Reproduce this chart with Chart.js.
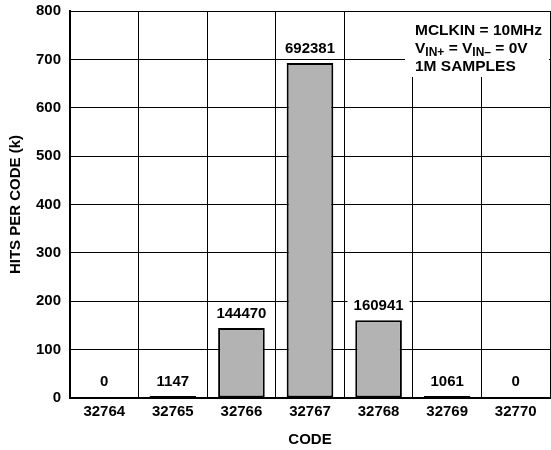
<!DOCTYPE html>
<html>
<head>
<meta charset="utf-8">
<script src="https://cdn.jsdelivr.net/npm/chart.js@4"></script>
<style>
  html, body { margin: 0; padding: 0; background: #fff; }
  #wrap { width: 551px; height: 450px; }
</style>
</head>
<body>
<div id="wrap"><canvas id="histChart"></canvas></div>
<script>
// Histogram of output codes
var codes = ['32764', '32765', '32766', '32767', '32768', '32769', '32770'];
var hits = [0, 1147, 144470, 692381, 160941, 1061, 0];
var hitsK = hits.map(function (h) { return h / 1000; });
var yTicks = [0, 100, 200, 300, 400, 500, 600, 700, 800];
var noteLines = [
    [['MCLKIN = 10MHz', false]],
    [['V', false], ['IN+', true], [' = V', false], ['IN\u2013', true], [' = 0V', false]],
    [['1M SAMPLES', false]]
];

var FONT = '"Liberation Sans", Arial, sans-serif';
Chart.defaults.font.family = FONT;
Chart.defaults.font.weight = 'bold';
Chart.defaults.font.size = 15;
Chart.defaults.color = '#000';

// boxed note in the top right corner
var notePlugin = {
    id: 'note',
    beforeDatasetsDraw: function (chart) {
        var ctx = chart.ctx;
        var area = chart.chartArea;
        ctx.save();
        ctx.fillStyle = '#fff';
        ctx.fillRect(405, area.top + 1, area.right - 405 - 1, 65);
        ctx.fillStyle = '#000';
        ctx.textBaseline = 'middle';
        var lineY = [31, 49, 67];
        noteLines.forEach(function (segs, li) {
            var x = 415;
            segs.forEach(function (s) {
                ctx.font = 'bold ' + (s[1] ? 12 : 15.5) + 'px ' + FONT;
                ctx.fillText(s[0], x, lineY[li] + (s[1] ? 4 : 0));
                x += ctx.measureText(s[0]).width;
            });
        });
        ctx.restore();
    }
};

// value labels above each bar, on a white patch
var barLabels = {
    id: 'barLabels',
    afterDatasetsDraw: function (chart) {
        var ctx = chart.ctx;
        var meta = chart.getDatasetMeta(0);
        ctx.save();
        ctx.font = 'bold 15px ' + FONT;
        ctx.textAlign = 'center';
        ctx.textBaseline = 'middle';
        meta.data.forEach(function (bar, i) {
            var txt = String(hits[i]);
            var w = ctx.measureText(txt).width + 12;
            var y = Math.min(bar.y, chart.chartArea.bottom) - 15;
            ctx.fillStyle = '#fff';
            ctx.fillRect(bar.x - w / 2, y - 9, w, 18);
            ctx.fillStyle = '#000';
            ctx.fillText(txt, bar.x, y + 1);
        });
        ctx.restore();
    }
};

var ctx1 = document.getElementById('histChart').getContext('2d');
var histChart = new Chart(ctx1, {
    type: 'bar',
    data: {
        labels: codes,
        datasets: [{
            label: 'Hits',
            data: hitsK,
            // empty codes get no visible bar, tiny ones show as a flat line
            backgroundColor: function (c) { return c.raw === 0 ? 'rgba(0,0,0,0)' : '#b3b3b3'; },
            borderColor: '#000',
            borderWidth: function (c) { return c.raw === 0 ? 0 : 2; },
            borderSkipped: false,
            minBarLength: 2,
            barPercentage: 0.68,
            categoryPercentage: 1
        }]
    },
    options: {
        responsive: true,
        maintainAspectRatio: false,
        animation: false,
        layout: { padding: { top: 11, right: 1, left: 0, bottom: 0 } },
        plugins: {
            legend: { display: false },
            tooltip: { enabled: false }
        },
        scales: {
            x: {
                grid: { color: '#000', lineWidth: 1, drawTicks: false, offset: true },
                border: { color: '#000', width: 2 },
                ticks: { padding: 5, maxRotation: 0 },
                title: { display: true, text: 'CODE', padding: { top: 0, bottom: 1 } },
                afterFit: function (scale) {
                    scale.height = 52;
                    scale.paddingLeft = 0;
                    scale.paddingRight = 0;
                }
            },
            y: {
                min: 0,
                max: 800,
                afterBuildTicks: function (scale) {
                    scale.ticks = yTicks.map(function (v) { return { value: v }; });
                },
                grid: { color: '#000', lineWidth: 1, drawTicks: false },
                border: { color: '#000', width: 2 },
                ticks: { padding: 9 },
                title: { display: true, text: 'HITS PER CODE (k)', padding: { top: 7, bottom: 0 } },
                afterFit: function (scale) {
                    scale.width = 70;
                    scale.paddingTop = 0;
                    scale.paddingBottom = 0;
                }
            }
        }
    },
    plugins: [notePlugin, barLabels]
});
</script>
</body>
</html>
